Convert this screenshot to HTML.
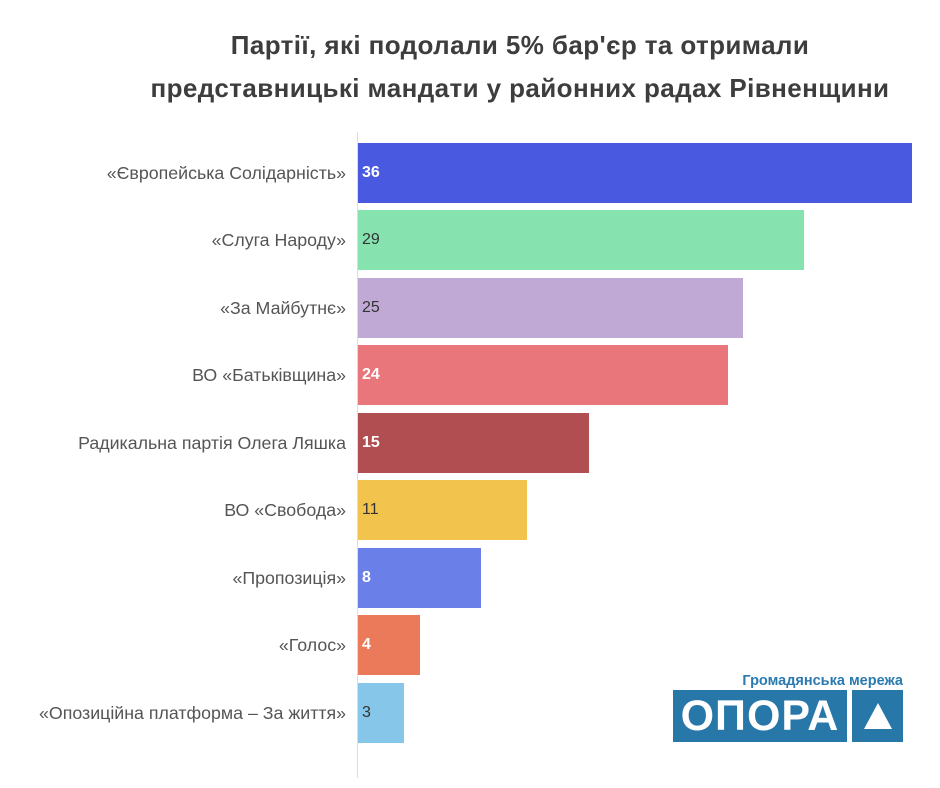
<!DOCTYPE html>
<html><head><meta charset="utf-8"><style>
body{margin:0;width:940px;height:788px;background:#fff;position:relative;font-family:"Liberation Sans","DejaVu Sans",sans-serif;overflow:hidden}
.t{position:absolute;left:100px;width:840px;text-align:center;font-weight:bold;font-size:26px;letter-spacing:0.4px;color:#3d3d3d;white-space:nowrap}
.lab{position:absolute;right:594px;font-size:17.8px;color:#555;white-space:nowrap;line-height:20px}
.bar{position:absolute;left:358px;height:60px}
.v{position:absolute;left:362px;font-size:16px;line-height:20px}
.w{color:#fff;font-weight:bold}.d{color:#333}
</style></head><body>
<div class="t" style="top:30px">Партії, які подолали 5% бар'єр та отримали</div>
<div class="t" style="top:73px">представницькі мандати у районних радах Рівненщини</div>
<div style="position:absolute;left:357px;top:132px;width:1px;height:646px;background:#ddd"></div>

<div class="bar" style="top:143px;width:554px;background:#4a5ae0"></div>
<div class="bar" style="top:210px;width:446px;background:#86e3b0"></div>
<div class="bar" style="top:278px;width:385px;background:#c0a9d4"></div>
<div class="bar" style="top:345px;width:370px;background:#e8767b"></div>
<div class="bar" style="top:413px;width:231px;background:#b04e51"></div>
<div class="bar" style="top:480px;width:169px;background:#f2c44d"></div>
<div class="bar" style="top:548px;width:123px;background:#6a80e8"></div>
<div class="bar" style="top:615px;width:62px;background:#ea7a5a"></div>
<div class="bar" style="top:683px;width:46px;background:#86c6e8"></div>

<div class="lab" style="top:163px">«Європейська Солідарність»</div><div class="v w" style="top:163px">36</div>
<div class="lab" style="top:230px">«Слуга Народу»</div><div class="v d" style="top:230px">29</div>
<div class="lab" style="top:298px">«За Майбутнє»</div><div class="v d" style="top:298px">25</div>
<div class="lab" style="top:365px">ВО «Батьківщина»</div><div class="v w" style="top:365px">24</div>
<div class="lab" style="top:433px">Радикальна партія Олега Ляшка</div><div class="v w" style="top:433px">15</div>
<div class="lab" style="top:500px">ВО «Свобода»</div><div class="v d" style="top:500px">11</div>
<div class="lab" style="top:568px">«Пропозиція»</div><div class="v w" style="top:568px">8</div>
<div class="lab" style="top:635px">«Голос»</div><div class="v w" style="top:635px">4</div>
<div class="lab" style="top:703px">«Опозиційна платформа – За життя»</div><div class="v d" style="top:703px">3</div>

<div style="position:absolute;right:37px;top:673px;font-size:14.5px;font-weight:bold;color:#2a7ab0;white-space:nowrap">Громадянська мережа</div>
<div style="position:absolute;left:673px;top:690px;width:174px;height:52px;background:#2777a8;color:#fff;font-weight:bold;font-size:43px;line-height:53px;text-align:center;letter-spacing:1px">ОПОРА</div>
<div style="position:absolute;left:852px;top:690px;width:51px;height:52px;background:#2777a8"></div>
<div style="position:absolute;left:864px;top:703px;width:0;height:0;border-left:14px solid transparent;border-right:14px solid transparent;border-bottom:26px solid #fff"></div>
</body></html>
